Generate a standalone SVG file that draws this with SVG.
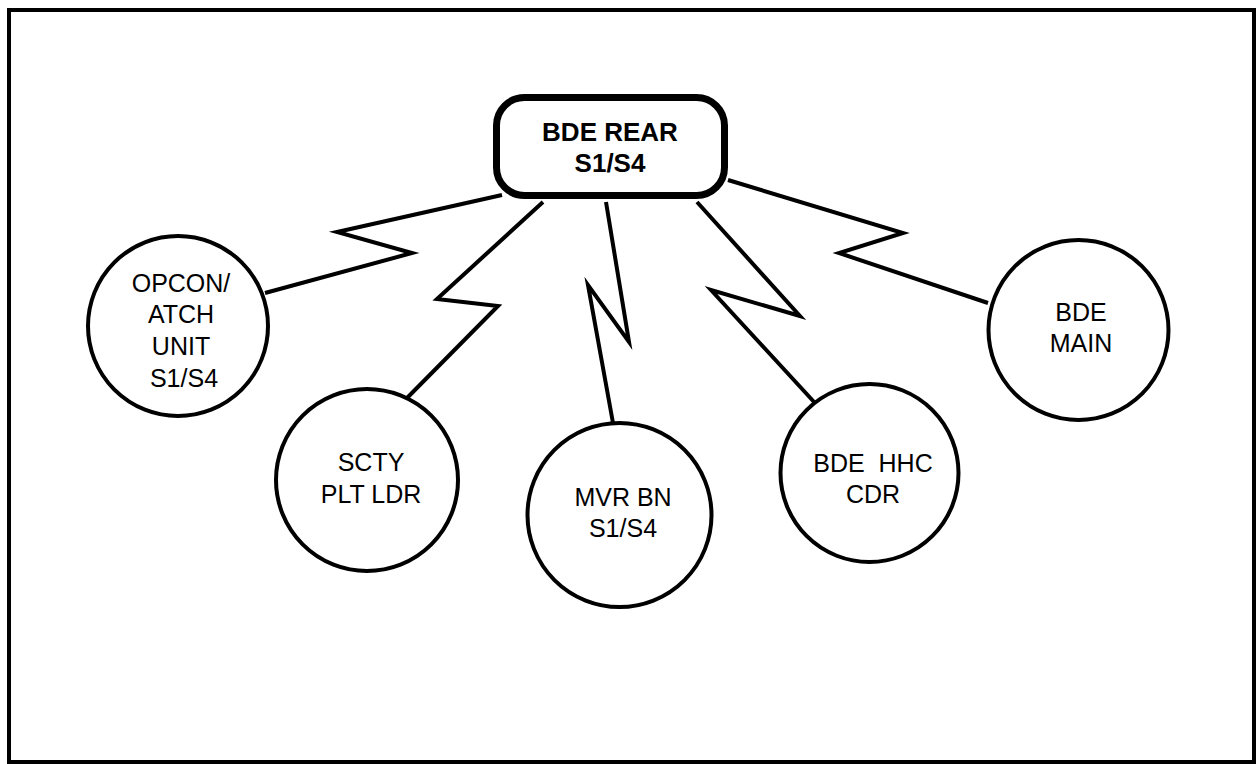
<svg xmlns="http://www.w3.org/2000/svg" width="1257" height="764" viewBox="0 0 1257 764">
<style>
.node{fill:#fff;stroke:#000;stroke-width:4}
.hub{fill:#fff;stroke:#000;stroke-width:7}
.lbl{font-family:"Liberation Sans",Arial,sans-serif;font-size:25px;fill:#000;text-anchor:middle}
.hl{font-family:"Liberation Sans",Arial,sans-serif;font-size:26px;font-weight:bold;fill:#000;text-anchor:middle}
.link{fill:none;stroke:#000;stroke-width:4;stroke-linejoin:miter;stroke-miterlimit:20}
</style>
<rect x="0" y="0" width="1257" height="764" fill="#fff"/>
<rect x="9" y="10" width="1245" height="752" fill="none" stroke="#000" stroke-width="4"/>
<g id="connectors">
<polyline class="link" points="502,195 337,232 412,253 265,293"/>
<polyline class="link" points="543,202 437,299 498,306 407,398"/>
<polyline class="link" points="606,202 629,342 588,285 613,423"/>
<polyline class="link" points="697,202 800,316 711,290 815,403"/>
<polyline class="link" points="728,180 903,233 839,253 988,303"/>
</g>
<g id="bde-rear">
<rect class="hub" x="496.5" y="97.5" width="228" height="98" rx="28"/>
<text class="hl" x="610" y="141">BDE REAR</text>
<text class="hl" x="610" y="172">S1/S4</text>
</g>
<g id="opcon">
<circle class="node" cx="178" cy="326" r="90"/>
<text class="lbl" x="181" y="292">OPCON/</text>
<text class="lbl" x="181" y="323">ATCH</text>
<text class="lbl" x="181" y="355">UNIT</text>
<text class="lbl" x="184" y="387">S1/S4</text>
</g>
<g id="scty">
<circle class="node" cx="367" cy="480" r="91"/>
<text class="lbl" x="371" y="471">SCTY</text>
<text class="lbl" x="371" y="503">PLT LDR</text>
</g>
<g id="mvr">
<circle class="node" cx="619.5" cy="515" r="92"/>
<text class="lbl" x="623" y="506">MVR BN</text>
<text class="lbl" x="623" y="537">S1/S4</text>
</g>
<g id="hhc">
<circle class="node" cx="869.5" cy="473" r="89"/>
<text class="lbl" x="873" y="472" xml:space="preserve">BDE  HHC</text>
<text class="lbl" x="873" y="503">CDR</text>
</g>
<g id="bde-main">
<circle class="node" cx="1078.5" cy="330" r="90"/>
<text class="lbl" x="1081" y="321">BDE</text>
<text class="lbl" x="1081" y="352">MAIN</text>
</g>
</svg>
